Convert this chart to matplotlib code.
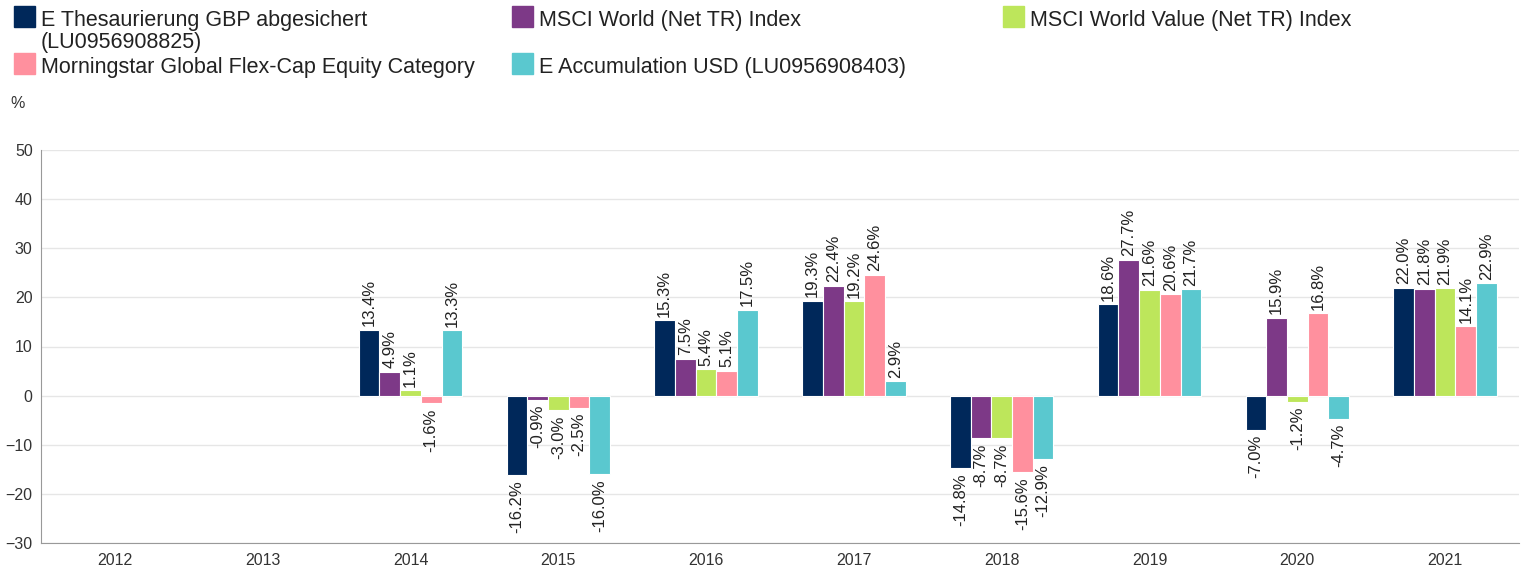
import matplotlib.pyplot as plt
import numpy as np
from matplotlib.patches import Rectangle

plt.rcParams['font.family'] = ['Liberation Sans', 'DejaVu Sans']

years = ['2012', '2013', '2014', '2015', '2016', '2017', '2018', '2019', '2020', '2021']

fund_gbp = [np.nan, np.nan, 13.4, -16.2, 15.3, 19.3, -14.8, 18.6, -7.0, 22.0]
msci_world = [np.nan, np.nan, 4.9, -0.9, 7.5, 22.4, -8.7, 27.7, 15.9, 21.8]
msci_value = [np.nan, np.nan, 1.1, -3.0, 5.4, 19.2, -8.7, 21.6, -1.2, 21.9]
morningstar = [np.nan, np.nan, -1.6, -2.5, 5.1, 24.6, -15.6, 20.6, 16.8, 14.1]
fund_usd = [np.nan, np.nan, 13.3, -16.0, 17.5, 2.9, -12.9, 21.7, -4.7, 22.9]

series = [fund_gbp, msci_world, msci_value, morningstar, fund_usd]
labels = ['E Thesaurierung GBP abgesichert\n(LU0956908825)',
          'MSCI World (Net TR) Index',
          'MSCI World Value (Net TR) Index',
          'Morningstar Global Flex-Cap Equity Category',
          'E Accumulation USD (LU0956908403)']
colors = ['#00285a', '#7d3987', '#bde65b', '#ff909e', '#5ac8cf']

W, H = 1521, 569
fig = plt.figure(figsize=(W / 100, H / 100), dpi=100)
ax = fig.add_axes([41 / W, 1 - 543 / H, (1519 - 41) / W, (543 - 150) / H])

x = np.arange(len(years))
width = 0.14
for i, (vals, col) in enumerate(zip(series, colors)):
    pos = x + (i - 2) * width
    ax.bar(pos, vals, width, color=col, edgecolor='white', linewidth=0.8, zorder=3)
    for px, v in zip(pos, vals):
        if np.isnan(v):
            continue
        if v >= 0:
            ax.annotate(f'{v:.1f}%', (px, v), xytext=(0, 2.5), textcoords='offset points',
                        rotation=90, ha='center', va='bottom', fontsize=12, color='#222222')
        else:
            ax.annotate(f'{v:.1f}%', (px, v), xytext=(0, -3.5), textcoords='offset points',
                        rotation=90, ha='center', va='top', fontsize=12, color='#222222')

ax.set_xlim(-0.5, len(years) - 0.5)
ax.set_ylim(-30, 50)
ax.set_yticks(np.arange(-30, 51, 10))
ax.set_xticks(x, years)
ax.tick_params(axis='both', length=0, labelsize=11.5, labelcolor='#333333')
ax.tick_params(axis='y', pad=6)
ax.tick_params(axis='x', pad=7)
ax.grid(axis='y', color='#e6e6e6', linewidth=1, zorder=0)
for s in ['top', 'right']:
    ax.spines[s].set_visible(False)
for s in ['left', 'bottom']:
    ax.spines[s].set_color('#999999')

fig.text(10 / W, 1 - 103 / H, '%', fontsize=11.5, color='#333333', va='center', ha='left')

# legend drawn by hand so rows line up across columns
leg_pos = [(14, 6), (512, 6), (1003, 6), (14, 53), (512, 53)]
for (lx, ly), lab, col in zip(leg_pos, labels, colors):
    fig.patches.append(Rectangle((lx / W, 1 - (ly + 21) / H), 21 / W, 21 / H,
                                 transform=fig.transFigure, color=col))
    fig.text((lx + 27) / W, 1 - (ly + 4) / H, lab, fontsize=15.5, color='#222222',
             va='top', ha='left', linespacing=1.08)

fig.savefig('out.png', dpi=100)
